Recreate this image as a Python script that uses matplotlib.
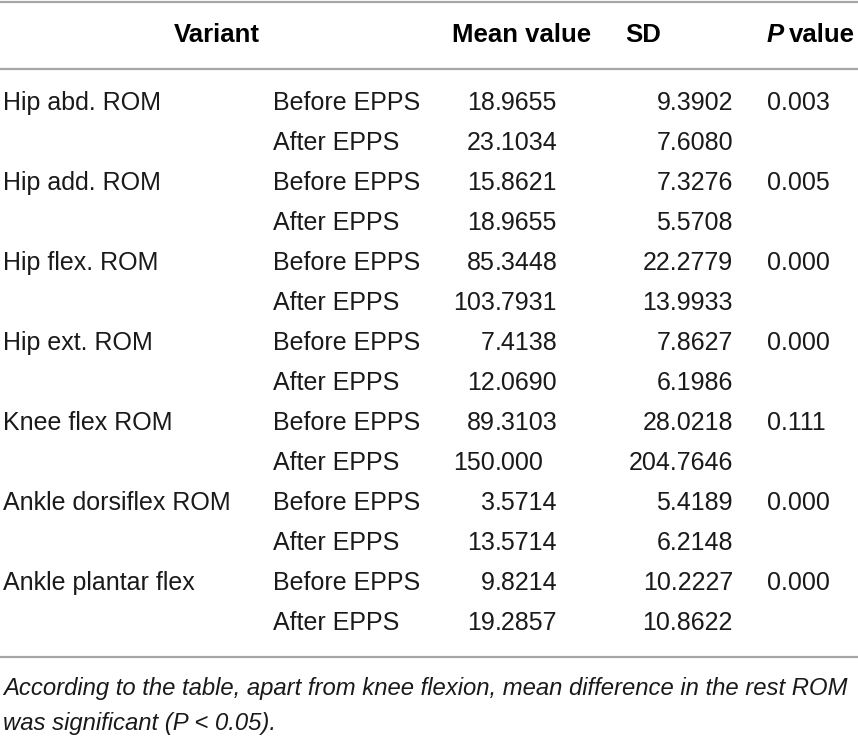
import matplotlib
matplotlib.use('Agg')
import matplotlib.pyplot as plt

# ---- table data ----
variants = ['Hip abd. ROM', 'Hip add. ROM', 'Hip flex. ROM', 'Hip ext. ROM',
            'Knee flex ROM', 'Ankle dorsiflex ROM', 'Ankle plantar flex']
conditions = ['Before EPPS', 'After EPPS']
mean_before = ['18.9655', '15.8621', '85.3448', '7.4138', '89.3103', '3.5714', '9.8214']
mean_after = ['23.1034', '18.9655', '103.7931', '12.0690', '150.000', '13.5714', '19.2857']
sd_before = ['9.3902', '7.3276', '22.2779', '7.8627', '28.0218', '5.4189', '10.2227']
sd_after = ['7.6080', '5.5708', '13.9933', '6.1986', '204.7646', '6.2148', '10.8622']
p_values = ['0.003', '0.005', '0.000', '0.000', '0.111', '0.000', '0.000']
footnote = ['According to the table, apart from knee flexion, mean difference in the rest ROM',
            'was significant (P < 0.05).']

W, H = 858, 740
FS = 18
FS_HEAD = 18.5
FS_NOTE = 17.2
FONT = ['Liberation Sans', 'DejaVu Sans']
LINE_C = '#a6a6a6'
TXT_C = '#1a1a1a'

fig = plt.figure(figsize=(W / 100, H / 100), dpi=100)
ax = fig.add_axes([0, 0, 1, 1])
ax.set_xlim(0, W)
ax.set_ylim(H, 0)
ax.axis('off')

# rules
for y in (1.5, 69, 657):
    ax.plot([0, W], [y, y], color=LINE_C, lw=1.6, solid_capstyle='butt')

# header
hy = 42
kw = dict(fontsize=FS_HEAD, fontweight='bold', family=FONT, va='baseline', color='black')
ax.text(217, hy, 'Variant', ha='center', **kw)
ax.text(452, hy, 'Mean value', ha='left', **kw)
ax.text(625, hy, 'SD', ha='left', **kw)
tp = ax.text(767, hy, 'P', ha='left', style='italic', **kw)
fig.canvas.draw()
bb = tp.get_window_extent(fig.canvas.get_renderer())
ax.text(767 + bb.width + 5, hy, 'value', ha='left', **kw)

# body
row0, step = 110, 40
DEC_X = 495
bkw = dict(fontsize=FS, family=FONT, va='baseline', color=TXT_C)
for i, name in enumerate(variants):
    for j, (m, s) in enumerate([(mean_before[i], sd_before[i]), (mean_after[i], sd_after[i])]):
        y = row0 + (2 * i + j) * step
        if j == 0:
            ax.text(3, y, name, ha='left', **bkw)
            ax.text(767, y, p_values[i], ha='left', **bkw)
        ax.text(273, y, conditions[j], ha='left', **bkw)
        ip, fp = m.split('.')
        ax.text(DEC_X, y, ip, ha='right', **bkw)
        ax.text(DEC_X, y, '.' + fp, ha='left', **bkw)
        ax.text(733, y, s, ha='right', **bkw)

# footnote
nkw = dict(bkw, fontsize=FS_NOTE)
for k, line in enumerate(footnote):
    ax.text(3, 695 + k * 35, line, ha='left', style='italic', **nkw)

fig.savefig('out.png', dpi=100)
